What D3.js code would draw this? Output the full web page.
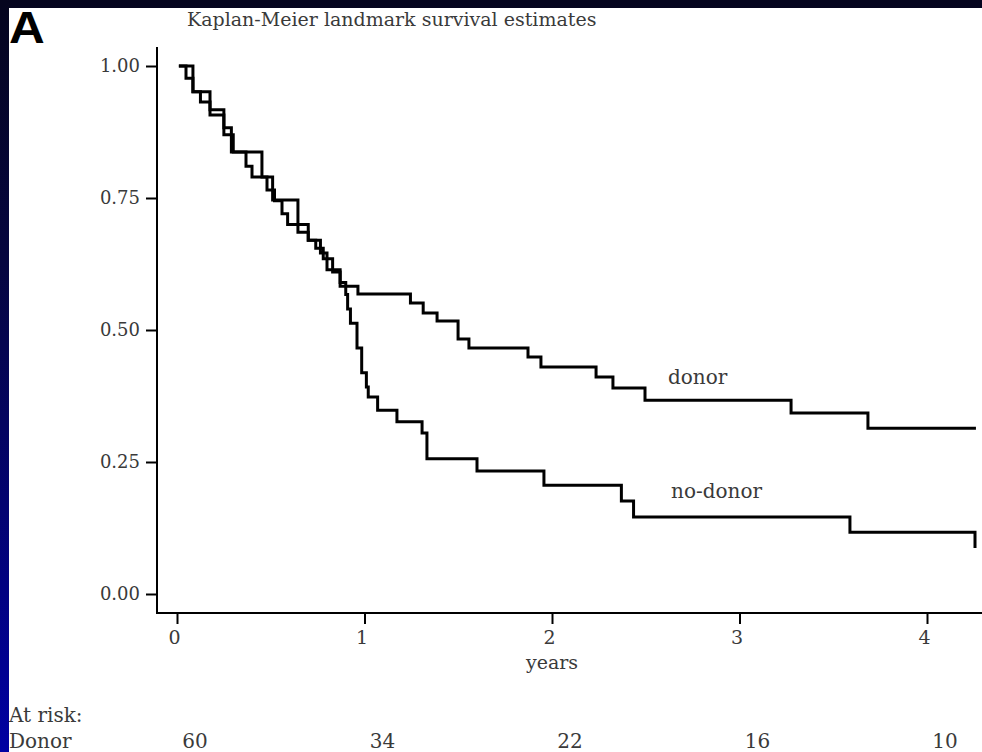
<!DOCTYPE html>
<html>
<head>
<meta charset="utf-8">
<script src="https://cdn.jsdelivr.net/npm/d3@7"></script>
<style>
  html, body { margin: 0; padding: 0; }
  body {
    width: 982px; height: 752px; overflow: hidden;
    background: linear-gradient(to bottom, #05051e 0%, #060640 35%, #0000a2 100%);
  }
  svg { display: block; }
</style>
</head>
<body>
<svg id="chart" width="982" height="752"></svg>
<script>
// Landmark Kaplan-Meier estimates: step times (years) and survival after each step
const donorTime = [0.01, 0.085, 0.176, 0.25, 0.29, 0.453, 0.51, 0.645, 0.70, 0.765, 0.80, 0.87, 0.965,
  1.245, 1.313, 1.387, 1.499, 1.557, 1.872, 1.941, 2.235, 2.325, 2.496, 3.275, 3.685, 4.261];
const donorSurv = [1.0, 0.951, 0.917, 0.883, 0.837, 0.79, 0.746, 0.70, 0.67, 0.646, 0.614, 0.583, 0.568,
  0.551, 0.532, 0.517, 0.483, 0.466, 0.449, 0.430, 0.411, 0.390, 0.367, 0.343, 0.314, 0.314];

const noDonorTime = [0.01, 0.048, 0.085, 0.125, 0.176, 0.25, 0.30, 0.368, 0.40, 0.48, 0.52, 0.56, 0.59,
  0.645, 0.70, 0.74, 0.78, 0.83, 0.87, 0.90, 0.91, 0.925, 0.96, 0.985, 1.01, 1.02, 1.07, 1.173,
  1.307, 1.333, 1.60, 1.957, 2.37, 2.435, 3.589, 4.256, 4.256];
const noDonorSurv = [1.0, 0.977, 0.951, 0.932, 0.907, 0.87, 0.837, 0.81, 0.79, 0.765, 0.745, 0.72, 0.70,
  0.685, 0.67, 0.655, 0.635, 0.61, 0.59, 0.567, 0.54, 0.513, 0.466, 0.419, 0.392, 0.373, 0.348, 0.326,
  0.305, 0.256, 0.233, 0.206, 0.176, 0.146, 0.117, 0.117, 0.087];

const yTicks = [0, 0.25, 0.5, 0.75, 1];
const xTicks = [0, 1, 2, 3, 4];
const atRiskDonor = [60, 34, 22, 16, 10];

const svg = d3.select("#chart");
const serif = "'DejaVu Serif', 'Liberation Serif', serif";
const textGrey = "#3a3a3a";

// white figure panel
svg.append("rect").attr("x", 9).attr("y", 8).attr("width", 973).attr("height", 744).attr("fill", "#ffffff");

const x = d3.scaleLinear().domain([0, 4]).range([177, 927]);
const y = d3.scaleLinear().domain([0, 1]).range([594, 66]);

// panel letter and title
svg.append("text").attr("transform", "translate(9,43) scale(1.1,1)")
  .attr("font-family", "'Liberation Sans', Arial, sans-serif").attr("font-weight", "bold")
  .attr("font-size", 45).attr("fill", "#000").text("A");
svg.append("text").attr("x", 187).attr("y", 26)
  .attr("font-family", serif).attr("font-size", 19).attr("fill", textGrey)
  .text("Kaplan-Meier landmark survival estimates");

// axis lines
svg.append("line").attr("x1", 157).attr("x2", 157).attr("y1", 47).attr("y2", 614)
  .attr("stroke", "#000").attr("stroke-width", 2);
svg.append("line").attr("x1", 156).attr("x2", 982).attr("y1", 613).attr("y2", 613)
  .attr("stroke", "#000").attr("stroke-width", 2);

// y axis ticks and labels
const yAxis = svg.append("g").attr("transform", "translate(157,0)")
  .call(d3.axisLeft(y).tickValues(yTicks).tickFormat(d3.format(".2f")).tickSize(11).tickPadding(6));
yAxis.select(".domain").remove();
yAxis.selectAll(".tick line").attr("stroke", "#000").attr("stroke-width", 2);
yAxis.selectAll(".tick text").attr("font-family", serif).attr("font-size", 18).attr("fill", textGrey);

// x axis ticks and labels
const xAxis = svg.append("g").attr("transform", "translate(0,613)")
  .call(d3.axisBottom(x).tickValues(xTicks).tickFormat(d3.format("d")).tickSize(11).tickPadding(7));
xAxis.select(".domain").remove();
xAxis.selectAll(".tick line").attr("stroke", "#000").attr("stroke-width", 2);
xAxis.selectAll(".tick text").attr("font-family", serif).attr("font-size", 19).attr("fill", textGrey)
  .attr("dx", -3);

svg.append("text").attr("x", x(2)).attr("y", 669).attr("text-anchor", "middle")
  .attr("font-family", serif).attr("font-size", 19).attr("fill", textGrey).text("years");

// survival step curves
const line = d3.line().x(d => x(d[0])).y(d => y(d[1])).curve(d3.curveStepAfter);
const donorPts = donorTime.map((t, i) => [t, donorSurv[i]]);
const noDonorPts = noDonorTime.map((t, i) => [t, noDonorSurv[i]]);
[donorPts, noDonorPts].forEach(pts => {
  svg.append("path").attr("d", line(pts)).attr("fill", "none")
    .attr("stroke", "#000").attr("stroke-width", 3).attr("stroke-linejoin", "miter");
});

// curve labels
svg.append("text").attr("x", 668).attr("y", 384)
  .attr("font-family", serif).attr("font-size", 20).attr("fill", textGrey).text("donor");
svg.append("text").attr("x", 671).attr("y", 498)
  .attr("font-family", serif).attr("font-size", 20).attr("fill", textGrey).text("no-donor");

// numbers at risk
svg.append("text").attr("x", 9).attr("y", 722)
  .attr("font-family", serif).attr("font-size", 20).attr("fill", textGrey).text("At risk:");
svg.append("text").attr("x", 9).attr("y", 748)
  .attr("font-family", serif).attr("font-size", 20).attr("fill", textGrey).text("Donor");
svg.selectAll("text.risk").data(atRiskDonor).enter().append("text")
  .attr("class", "risk")
  .attr("x", (d, i) => x(xTicks[i]) + 18).attr("y", 748).attr("text-anchor", "middle")
  .attr("font-family", serif).attr("font-size", 20).attr("fill", textGrey).text(d => d);
</script>
</body>
</html>
